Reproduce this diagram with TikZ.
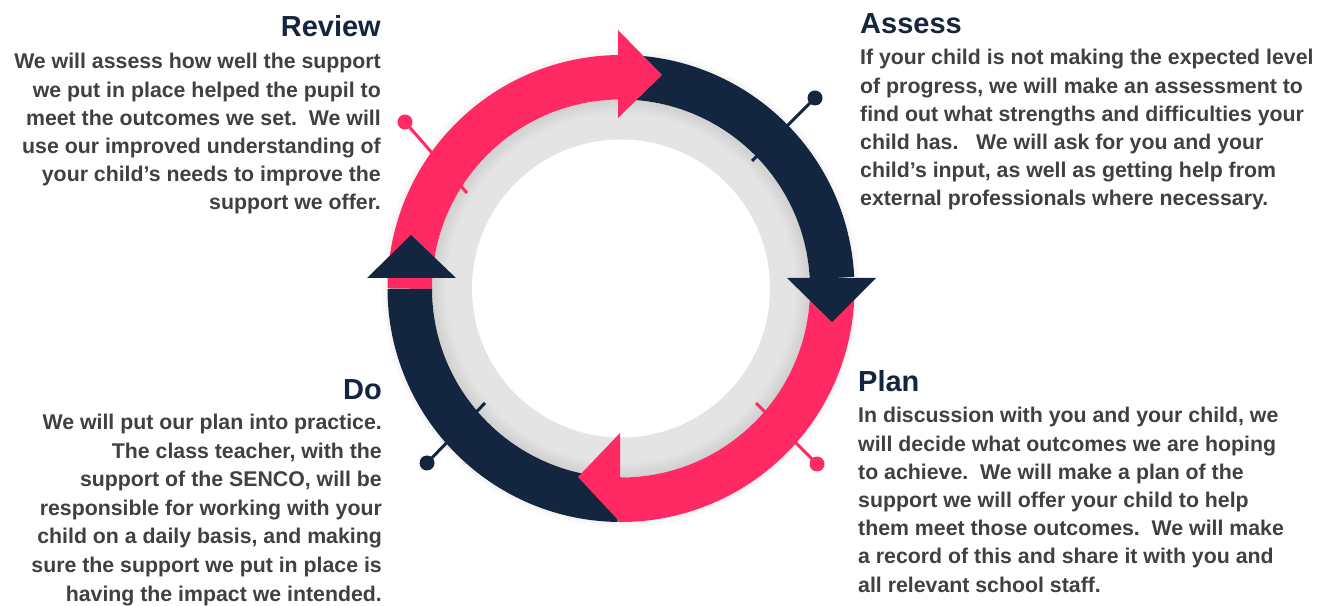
\documentclass[tikz,border=0pt]{standalone}
\usepackage{fontspec}
\setmainfont{Liberation Sans}
\definecolor{navy}{HTML}{14253F}
\definecolor{pinkc}{HTML}{FF2A64}
\definecolor{ringgray}{HTML}{E4E4E4}
\definecolor{bodygray}{HTML}{404040}
\begin{document}
\begin{tikzpicture}[x=1pt,y=1pt,
  bodytext/.style={font=\fontsize{21.3}{25}\selectfont\bfseries, text=bodygray, inner sep=0pt},
  headtext/.style={font=\fontsize{29}{33}\selectfont\bfseries, text=navy, inner sep=0pt},
  band/.style={line width=44.5pt},
  pinline/.style={line width=3pt},
]
\useasboundingbox (0,0) rectangle (1317,605);
\coordinate (C) at (621,316.5);
% grey ring
\fill[ringgray] (C) circle (189);
\fill[white] (C) circle (149);
% soft shadows
\foreach \k in {1,...,12}{
  \pgfmathsetmacro\op{0.08*(1-\k/13)}
  \draw[line width=1.2pt, black, draw opacity=\op] (C) circle ({189-1.2*\k+0.6});
}
\foreach \k in {1,...,6}{
  \pgfmathsetmacro\op{0.05*(1-\k/7)}
  \draw[line width=1pt, black, draw opacity=\op] (C) circle ({233.5+\k-0.5});
}
% pins
\coordinate (aDot) at (815,507); \coordinate (aEnd) at (752,444);
\coordinate (pDot) at (817,141); \coordinate (pEnd) at (756,202);
\coordinate (dDot) at (427,142); \coordinate (dEnd) at (485,202);
\coordinate (rDot) at (405,483); \coordinate (rEnd) at (467,412);
\draw[pinline, navy] (aDot) -- (aEnd);
\draw[pinline, pinkc] (pDot) -- (pEnd);
\draw[pinline, navy] (dDot) -- (dEnd);
\draw[pinline, pinkc] (rDot) -- (rEnd);
\fill[navy] (aDot) circle (7.5);
\fill[pinkc] (pDot) circle (7.5);
\fill[navy] (dDot) circle (7.5);
\fill[pinkc] (rDot) circle (7.5);
% bands
\draw[band, navy] ([shift={(90:211.25)}]C) arc (90:2.8:211.25);
\draw[band, navy] ([shift={(-90:211.25)}]C) arc (-90:-180:211.25);
\draw[band, pinkc] ([shift={(0:211.25)}]C) arc (0:-91:211.25);
\draw[band, pinkc] ([shift={(180:211.25)}]C) arc (180:90:211.25);
% arrow heads
\coordinate (t1) at (618,575); \coordinate (t2) at (618,487); \coordinate (t3) at (662,530);
\coordinate (r1) at (787,327); \coordinate (r2) at (876,327); \coordinate (r3) at (832,283);
\coordinate (b1) at (620,172); \coordinate (b2) at (620,83);  \coordinate (b3) at (578,128);
\coordinate (l1) at (367,327); \coordinate (l2) at (456,327); \coordinate (l3) at (411,370);
\fill[pinkc] (t1) -- (t3) -- (t2) -- cycle;
\fill[navy] (r1) -- (r3) -- (r2) -- cycle;
\fill[pinkc] (b1) -- (b3) -- (b2) -- cycle;
\fill[navy] (l1) -- (l3) -- (l2) -- cycle;
% Review
\node[headtext, anchor=base east] (revH) at (381,568) {Review};
\foreach \t [count=\i] in {
  {We will assess how well the support},
  {we put in place helped the pupil to},
  {meet the outcomes we set.\ \ We will},
  {use our improved understanding of},
  {your child’s needs to improve the},
  {support we offer.}}
  \node[bodytext, anchor=base east] (rev\i) at (381,{536-28.2*(\i-1)}) {\t};
% Assess
\node[headtext, anchor=base west] (assH) at (860,571) {Assess};
\foreach \t [count=\i] in {
  {If your child is not making the expected level},
  {of progress, we will make an assessment to},
  {find out what strengths and difficulties your},
  {child has.\ \ \ We will ask for you and your},
  {child’s input, as well as getting help from},
  {external professionals where necessary.}}
  \node[bodytext, anchor=base west] (ass\i) at (860,{540-28.2*(\i-1)}) {\t};
% Plan
\node[headtext, anchor=base west] (plaH) at (858,213) {Plan};
\foreach \t [count=\i] in {
  {In discussion with you and your child, we},
  {will decide what outcomes we are hoping},
  {to achieve.\ \ We will make a plan of the},
  {support we will offer your child to help},
  {them meet those outcomes.\ \ We will make},
  {a record of this and share it with you and},
  {all relevant school staff.}}
  \node[bodytext, anchor=base west] (pla\i) at (858,{182-28.2*(\i-1)}) {\t};
% Do
\node[headtext, anchor=base east] (doH) at (382,205) {Do};
\foreach \t [count=\i] in {
  {We will put our plan into practice.},
  {The class teacher, with the},
  {support of the SENCO, will be},
  {responsible for working with your},
  {child on a daily basis, and making},
  {sure the support we put in place is},
  {having the impact we intended.}}
  \node[bodytext, anchor=base east] (do\i) at (382,{175-28.5*(\i-1)}) {\t};
\end{tikzpicture}
\end{document}
